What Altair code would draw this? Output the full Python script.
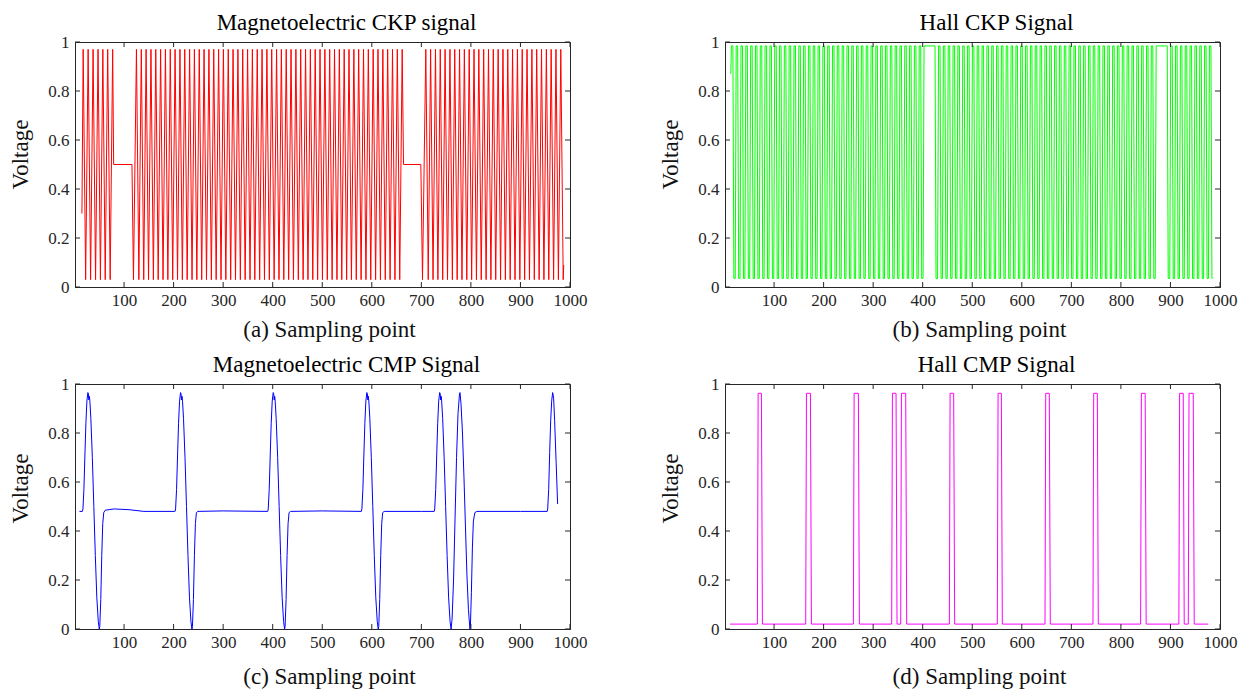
import altair as alt
import pandas as pd

FONT = "Liberation Serif"
AX = "#262626"

# ---------------- data ----------------
X_TICKS = [100, 200, 300, 400, 500, 600, 700, 800, 900, 1000]
Y_TICKS = [0, 0.2, 0.4, 0.6, 0.8, 1]

# (a) Magnetoelectric CKP: tooth peaks / troughs
MAG_CKP_PEAK_Y = 0.97
MAG_CKP_TROUGH_Y = 0.03
MAG_CKP_PEAK_X = [
    17.5, 27.5, 37.5, 47.5, 57.2, 67.0, 77.0,
    125.0, 134.8, 144.5, 154.3, 164.0, 173.8, 183.5, 193.3, 203.0, 212.8, 222.5, 232.3, 242.0, 251.8,
    261.5, 271.3, 281.0, 290.8, 300.5, 310.3, 320.0, 329.8, 339.5, 349.3, 359.0, 368.8, 378.5, 388.3,
    398.0, 407.8, 417.5, 427.3, 437.0, 446.8, 456.5, 466.3, 476.0, 485.8, 495.5, 505.3, 515.0, 524.8,
    534.5, 544.3, 554.0, 563.8, 573.5, 583.3, 593.0, 602.8, 612.5, 622.3, 632.0, 641.8, 651.5, 661.3,
    709.0, 718.7, 728.5, 738.2, 747.9, 757.7, 767.4, 777.1, 786.8, 796.6, 806.3, 816.0, 825.8, 835.5,
    845.2, 855.0, 864.7, 874.4, 884.1, 893.9, 903.6, 913.3, 923.1, 932.8, 942.5, 952.3, 962.0, 971.7,
    981.4,
]
MAG_CKP_TROUGH_X = [
    22.5, 32.5, 42.5, 52.3, 62.0, 72.0,
    119.0, 129.9, 139.7, 149.4, 159.2, 168.9, 178.7, 188.4, 198.2, 207.9, 217.7, 227.4, 237.2, 246.9,
    256.7, 266.4, 276.2, 285.9, 295.7, 305.4, 315.2, 324.9, 334.7, 344.4, 354.2, 363.9, 373.7, 383.4,
    393.2, 402.9, 412.7, 422.4, 432.2, 441.9, 451.7, 461.4, 471.2, 480.9, 490.7, 500.4, 510.2, 519.9,
    529.7, 539.4, 549.2, 558.9, 568.7, 578.4, 588.2, 597.9, 607.7, 617.4, 627.2, 636.9, 646.7, 656.4,
    702.3, 713.9, 723.6, 733.4, 743.1, 752.8, 762.6, 772.3, 782.0, 791.7, 801.5, 811.2, 820.9, 830.7,
    840.4, 850.1, 859.9, 869.6, 879.3, 889.0, 898.8, 908.5, 918.2, 928.0, 937.7, 947.4, 957.2, 966.9,
    976.6, 986.3,
]
MAG_CKP_EXTRA_X = [15.0, 79.0, 116.0, 664.0, 699.0, 987.3]
MAG_CKP_EXTRA_Y = [0.30, 0.50, 0.50, 0.50, 0.50, 0.09]

# (b) Hall CKP: times at which each tooth reaches the high level
HALL_CKP_HIGH = 0.984
HALL_CKP_LOW = 0.035
HALL_CKP_TOOTH_X = [
    13.9, 23.6, 33.3, 43.1, 52.8, 62.5, 72.2, 81.9, 91.7, 101.4, 111.1, 120.8, 130.5, 140.3, 150.0,
    159.7, 169.4, 179.1, 188.9, 198.6, 208.3, 218.0, 227.7, 237.5, 247.2, 256.9, 266.6, 276.3, 286.1,
    295.8, 305.5, 315.2, 324.9, 334.7, 344.4, 354.1, 363.8, 373.5, 383.3, 393.0, 402.7,
    432.0, 441.8, 451.5, 461.3, 471.0, 480.8, 490.6, 500.3, 510.1, 519.8, 529.6, 539.4, 549.1, 558.9,
    568.6, 578.4, 588.2, 597.9, 607.7, 617.4, 627.2, 637.0, 646.7, 656.5, 666.2, 676.0, 685.8, 695.5,
    705.3, 715.0, 724.8, 734.6, 744.3, 754.1, 763.8, 773.6, 783.4, 793.1, 802.9, 812.6, 822.4, 832.2,
    841.9, 851.7, 861.4, 871.2,
    900.6, 910.4, 920.1, 929.9, 939.6, 949.4, 959.2, 968.9, 978.7,
]
HALL_CKP_GAP_START = [402.7, 871.2]
HALL_CKP_GAP_END = [424.9, 893.5]
HALL_CKP_FIRST = (12.7, 0.87)
HALL_CKP_LAST_X = 985.0

# (c) Magnetoelectric CMP: waveform vertices
MAG_CMP_X = [
    10, 16, 17, 19, 21, 23, 25, 27, 28, 29, 30, 31, 33, 36, 39, 42, 45, 48, 50, 51, 53, 55, 57, 59, 62,
    80, 110, 140, 202,
    203, 204, 206, 208, 210, 212, 214, 215, 216, 217, 218, 220, 223, 226, 229, 232, 235, 237, 238, 240,
    242, 244, 246, 249, 300, 390,
    391, 393, 395, 397, 399, 401, 402, 403, 404, 405, 407, 410, 413, 416, 419, 422, 424, 425, 427,
    429, 431, 433, 436, 500, 579,
    580, 582, 584, 586, 588, 590, 591, 592, 593, 594, 596, 599, 602, 605, 608, 611, 613, 614, 616,
    618, 620, 622, 625, 700, 726,
    727, 729, 731, 733, 735, 737, 738, 739, 740, 741, 743, 746, 749, 752, 755, 758, 760,
    762, 765, 768, 771, 774, 777, 778, 780, 783, 786, 789, 792, 795, 798, 799, 801, 803, 805, 808,
    812, 900, 954,
    955, 957, 959, 961, 963, 965, 966, 967, 969, 972, 975,
]
MAG_CMP_Y = [
    0.48, 0.48, 0.49, 0.57, 0.71, 0.84, 0.93, 0.965, 0.96, 0.935, 0.95, 0.93, 0.86, 0.70, 0.50, 0.30,
    0.13, 0.03, 0.0, 0.01, 0.12, 0.30, 0.43, 0.475, 0.485,
    0.49, 0.487, 0.48, 0.48,
    0.48, 0.49, 0.57, 0.71, 0.84, 0.93, 0.965, 0.96, 0.935, 0.95, 0.93, 0.86, 0.70, 0.50, 0.30, 0.13,
    0.03, 0.0, 0.01, 0.12, 0.30, 0.43, 0.475, 0.48, 0.482, 0.48,
    0.49, 0.57, 0.71, 0.84, 0.93, 0.965, 0.96, 0.935, 0.95, 0.93, 0.86, 0.70, 0.50, 0.30, 0.13, 0.03,
    0.0, 0.01, 0.12, 0.30, 0.43, 0.475, 0.48, 0.482, 0.48,
    0.49, 0.57, 0.71, 0.84, 0.93, 0.965, 0.96, 0.935, 0.95, 0.93, 0.86, 0.70, 0.50, 0.30, 0.13, 0.03,
    0.0, 0.01, 0.12, 0.30, 0.43, 0.475, 0.48, 0.48, 0.48,
    0.49, 0.57, 0.71, 0.84, 0.93, 0.965, 0.96, 0.935, 0.95, 0.93, 0.86, 0.70, 0.50, 0.30, 0.13, 0.03,
    0.0,
    0.04, 0.20, 0.45, 0.70, 0.88, 0.96, 0.965, 0.92, 0.80, 0.62, 0.42, 0.22, 0.08, 0.0, 0.01, 0.15,
    0.33, 0.44, 0.475,
    0.48, 0.48, 0.48,
    0.49, 0.57, 0.72, 0.85, 0.93, 0.965, 0.955, 0.94, 0.85, 0.68, 0.51,
]

# (d) Hall CMP: pulse edges
HALL_CMP_HIGH = 0.962
HALL_CMP_LOW = 0.02
HALL_CMP_RISE_X = [66.4, 163.9, 260.1, 337.4, 355.6, 453.8, 550.6, 646.8, 743.6, 839.8, 917.0, 936.0]
HALL_CMP_FALL_X = [76.5, 175.4, 272.2, 348.2, 367.7, 464.5, 560.7, 657.5, 754.4, 851.0, 927.8, 948.0]
HALL_CMP_FIRST_X = 11.3
HALL_CMP_LAST_X = 976.2


# ---------------- build tables ----------------
def table(points):
    points = sorted(points, key=lambda p: p[0])
    return pd.DataFrame({"i": range(len(points)),
                         "x": [p[0] for p in points],
                         "y": [p[1] for p in points]})


pts = [(x, MAG_CKP_PEAK_Y) for x in MAG_CKP_PEAK_X]
pts += [(x, MAG_CKP_TROUGH_Y) for x in MAG_CKP_TROUGH_X]
pts += list(zip(MAG_CKP_EXTRA_X, MAG_CKP_EXTRA_Y))
df_a = table(pts)

TOP_W, EDGE = 3.0, 2.0
pts = [HALL_CKP_FIRST]
for k, s in enumerate(HALL_CKP_TOOTH_X):
    pts.append((s, HALL_CKP_HIGH))
    e = HALL_CKP_GAP_END[HALL_CKP_GAP_START.index(s)] if s in HALL_CKP_GAP_START else s + TOP_W
    pts.append((e, HALL_CKP_HIGH))
    pts.append((e + EDGE, HALL_CKP_LOW))
    if k + 1 < len(HALL_CKP_TOOTH_X):
        pts.append((HALL_CKP_TOOTH_X[k + 1] - EDGE, HALL_CKP_LOW))
    else:
        pts.append((HALL_CKP_LAST_X, HALL_CKP_LOW))
df_b = table(pts)

df_c = table(list(zip(MAG_CMP_X, MAG_CMP_Y)))

pts = [(HALL_CMP_FIRST_X, HALL_CMP_LOW)]
for r, f in zip(HALL_CMP_RISE_X, HALL_CMP_FALL_X):
    pts += [(r, HALL_CMP_LOW), (r + 1.5, HALL_CMP_HIGH), (f - 2.0, HALL_CMP_HIGH), (f, HALL_CMP_LOW)]
pts.append((HALL_CMP_LAST_X, HALL_CMP_LOW))
df_d = table(pts)

# ---------------- chart ----------------
W, H = 495, 245
TICK = 5
xt_df = pd.DataFrame({"t": X_TICKS})
yt_df = pd.DataFrame({"v": Y_TICKS})


def panel(df, color, title, caption, cap_y, vtitle_y):
    xs = alt.Scale(domain=[1, 1000], nice=False, zero=False)
    ys = alt.Scale(domain=[0, 1], nice=False, zero=False)
    common = dict(labelFont=FONT, labelFontSize=17, labelColor=AX, titleFont=FONT, titleFontSize=23,
                  titleFontWeight="normal", titleColor="#111111", titleBaseline="alphabetic",
                  labelFlush=False, ticks=False, grid=False, domainColor=AX)
    xa = alt.Axis(values=X_TICKS, format="d", title=caption, labelPadding=5,
                  titleX=254, titleY=cap_y, **common)
    ya = alt.Axis(values=Y_TICKS, labelExpr="format(datum.value, '~g')", title="Voltage",
                  labelPadding=6, titleX=-48, titleY=vtitle_y, **common)
    line = alt.Chart(df).mark_line(color=color, strokeWidth=1, clip=True).encode(
        x=alt.X("x:Q", scale=xs, axis=xa),
        y=alt.Y("y:Q", scale=ys, axis=ya),
        order=alt.Order("i:Q"),
    )
    rule = dict(color=AX, strokeWidth=1)
    bt = alt.Chart(xt_df).mark_rule(**rule).encode(
        x=alt.X("t:Q", scale=xs, axis=xa), y=alt.value(H), y2=alt.value(H - TICK))
    tt = alt.Chart(xt_df).mark_rule(**rule).encode(
        x=alt.X("t:Q", scale=xs, axis=xa), y=alt.value(0), y2=alt.value(TICK))
    lt = alt.Chart(yt_df).mark_rule(**rule).encode(
        y=alt.Y("v:Q", scale=ys, axis=ya), x=alt.value(0), x2=alt.value(TICK))
    rt = alt.Chart(yt_df).mark_rule(**rule).encode(
        y=alt.Y("v:Q", scale=ys, axis=ya), x=alt.value(W), x2=alt.value(W - TICK))
    return alt.layer(line, bt, tt, lt, rt).properties(
        width=W, height=H,
        title=alt.TitleParams(text=title, font=FONT, fontSize=23, fontWeight="normal", color="black",
                              anchor="middle", frame="group", dx=24, offset=-20,
                              baseline="alphabetic"),
    )


pa = panel(df_a, "#ff0000", "Magnetoelectric CKP signal", "(a) Sampling point", 49, 112)
pb = panel(df_b, "#00ff00", "Hall CKP Signal", "(b) Sampling point", 49, 112)
pc = panel(df_c, "#0000ff", "Magnetoelectric CMP Signal", "(c) Sampling point", 54, 104)
pd_ = panel(df_d, "#ff00ff", "Hall CMP Signal", "(d) Sampling point", 54, 104)

chart = alt.concat(pa, pb, pc, pd_, columns=2, spacing={"row": 97, "column": 155}, bounds="flush").configure_axis(
    grid=False, ticks=False, domainColor=AX, domainWidth=1,
    labelFont=FONT, labelFontSize=17, labelColor=AX,
    titleFont=FONT, titleFontSize=23, titleFontWeight="normal", titleColor="#111111",
).configure_view(stroke=AX, strokeWidth=1).properties(
    background="white", padding={"left": 8, "top": 11, "right": 5, "bottom": 5}
)

chart.save("out.html", embed_options={"renderer": "svg", "actions": False})
